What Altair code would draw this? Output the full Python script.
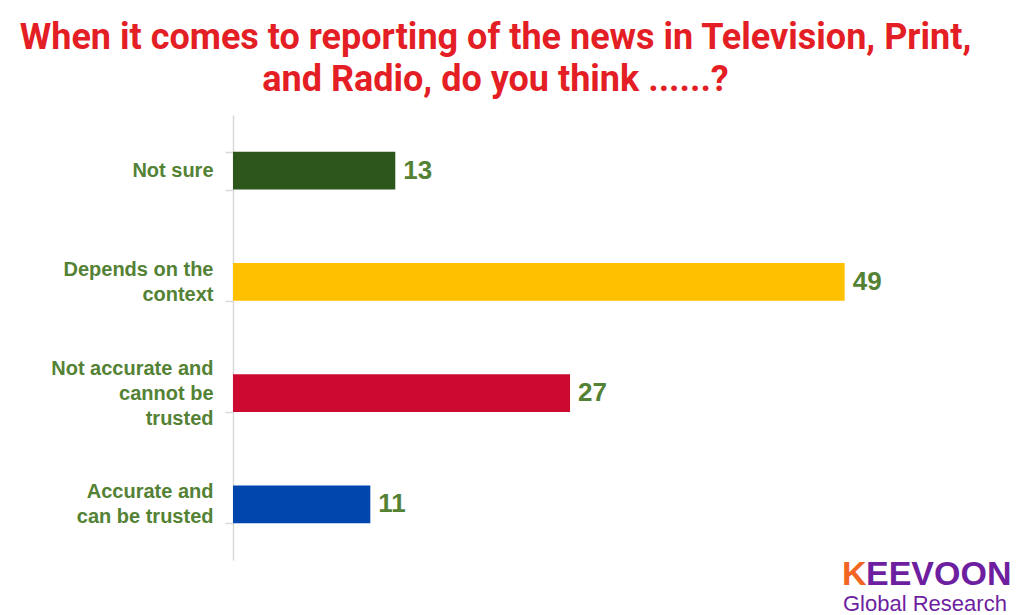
import altair as alt
import pandas as pd

categories = ["Not sure", "Depends on the\ncontext", "Not accurate and\ncannot be\ntrusted", "Accurate and\ncan be trusted"]
values = [13, 49, 27, 11]
colors = ["#2D561A", "#FFC000", "#CC0A2F", "#0046AD"]

title_lines = ["When it comes to reporting of the news in Television, Print,", "and Radio, do you think ......?"]

df = pd.DataFrame({"category": categories, "value": values})

GREEN = "#548235"
LABEL_FONT = "Liberation Sans"
TITLE_FONT = "Roboto"

y_enc = alt.Y(
    "category:N",
    sort=categories,
    scale=alt.Scale(paddingInner=0.66, paddingOuter=0.33),
    axis=alt.Axis(
        title=None,
        labelExpr="isString(datum.value) ? split(datum.value, '\\n') : ''",
        labelFont=LABEL_FONT,
        labelFontSize=20,
        labelFontWeight="bold",
        labelColor=GREEN,
        labelLineHeight=25,
        labelPadding=12,
        labelAlign="right",
        labelBaseline="middle",
        labelOffset={
            "condition": [
                {"test": "isString(datum.value) && indexof(datum.value, 'cannot') >= 0", "value": -25},
                {"test": "isString(datum.value) && indexof(datum.value, '\\n') >= 0", "value": -12.5},
            ],
            "value": 0,
        },
        domainColor="#d9d9d9",
        domainWidth=1.5,
        tickColor="#d9d9d9",
        tickWidth=1.5,
        tickSize=8,
        tickBand="extent",
        grid=False,
    ),
)
x_enc = alt.X("value:Q", scale=alt.Scale(domain=[0, 60], nice=False), axis=None)

bars = alt.Chart(df).mark_bar().encode(
    x=x_enc,
    y=y_enc,
    color=alt.Color("category:N", scale=alt.Scale(domain=categories, range=colors), legend=None),
)

texts = alt.Chart(df).mark_text(
    align="left", baseline="middle", dx=8, font=LABEL_FONT, fontSize=26, fontWeight="bold", color=GREEN
).encode(x=x_enc, y=alt.Y("category:N", sort=categories), text="value:Q")

logo_df = pd.DataFrame({"k": ["K"], "rest": ["EEVOON"], "sub": ["Global Research"]})
logo_k = alt.Chart(logo_df).mark_text(
    align="left", baseline="alphabetic", font="Liberation Sans", fontSize=34, fontWeight="bold", color="#F26522"
).encode(text="k:N", x=alt.value(609), y=alt.value(470))
logo_rest = alt.Chart(logo_df).mark_text(
    align="left", baseline="alphabetic", font="Liberation Sans", fontSize=34, fontWeight="bold", color="#6E1FA0"
).encode(text="rest:N", x=alt.value(633), y=alt.value(470))
logo_sub = alt.Chart(logo_df).mark_text(
    align="left", baseline="alphabetic", font="Liberation Sans", fontSize=22, color="#6E1FA0"
).encode(text="sub:N", x=alt.value(610), y=alt.value(496))

chart = alt.layer(bars, texts, logo_k, logo_rest, logo_sub).properties(
    width=749,
    height=445,
    autosize=alt.AutoSizeParams(type="none"),
    padding={"left": 225, "top": 107, "right": 34, "bottom": 55},
    title=alt.TitleParams(
        text=title_lines,
        font=TITLE_FONT,
        fontSize=36,
        fontWeight="bold",
        color="#E31E24",
        lineHeight=42,
        anchor="middle",
        dx=-112,
        offset=6,
    ),
).configure_view(stroke=None)

chart.save("out.html", embed_options={"renderer": "svg", "actions": False})
